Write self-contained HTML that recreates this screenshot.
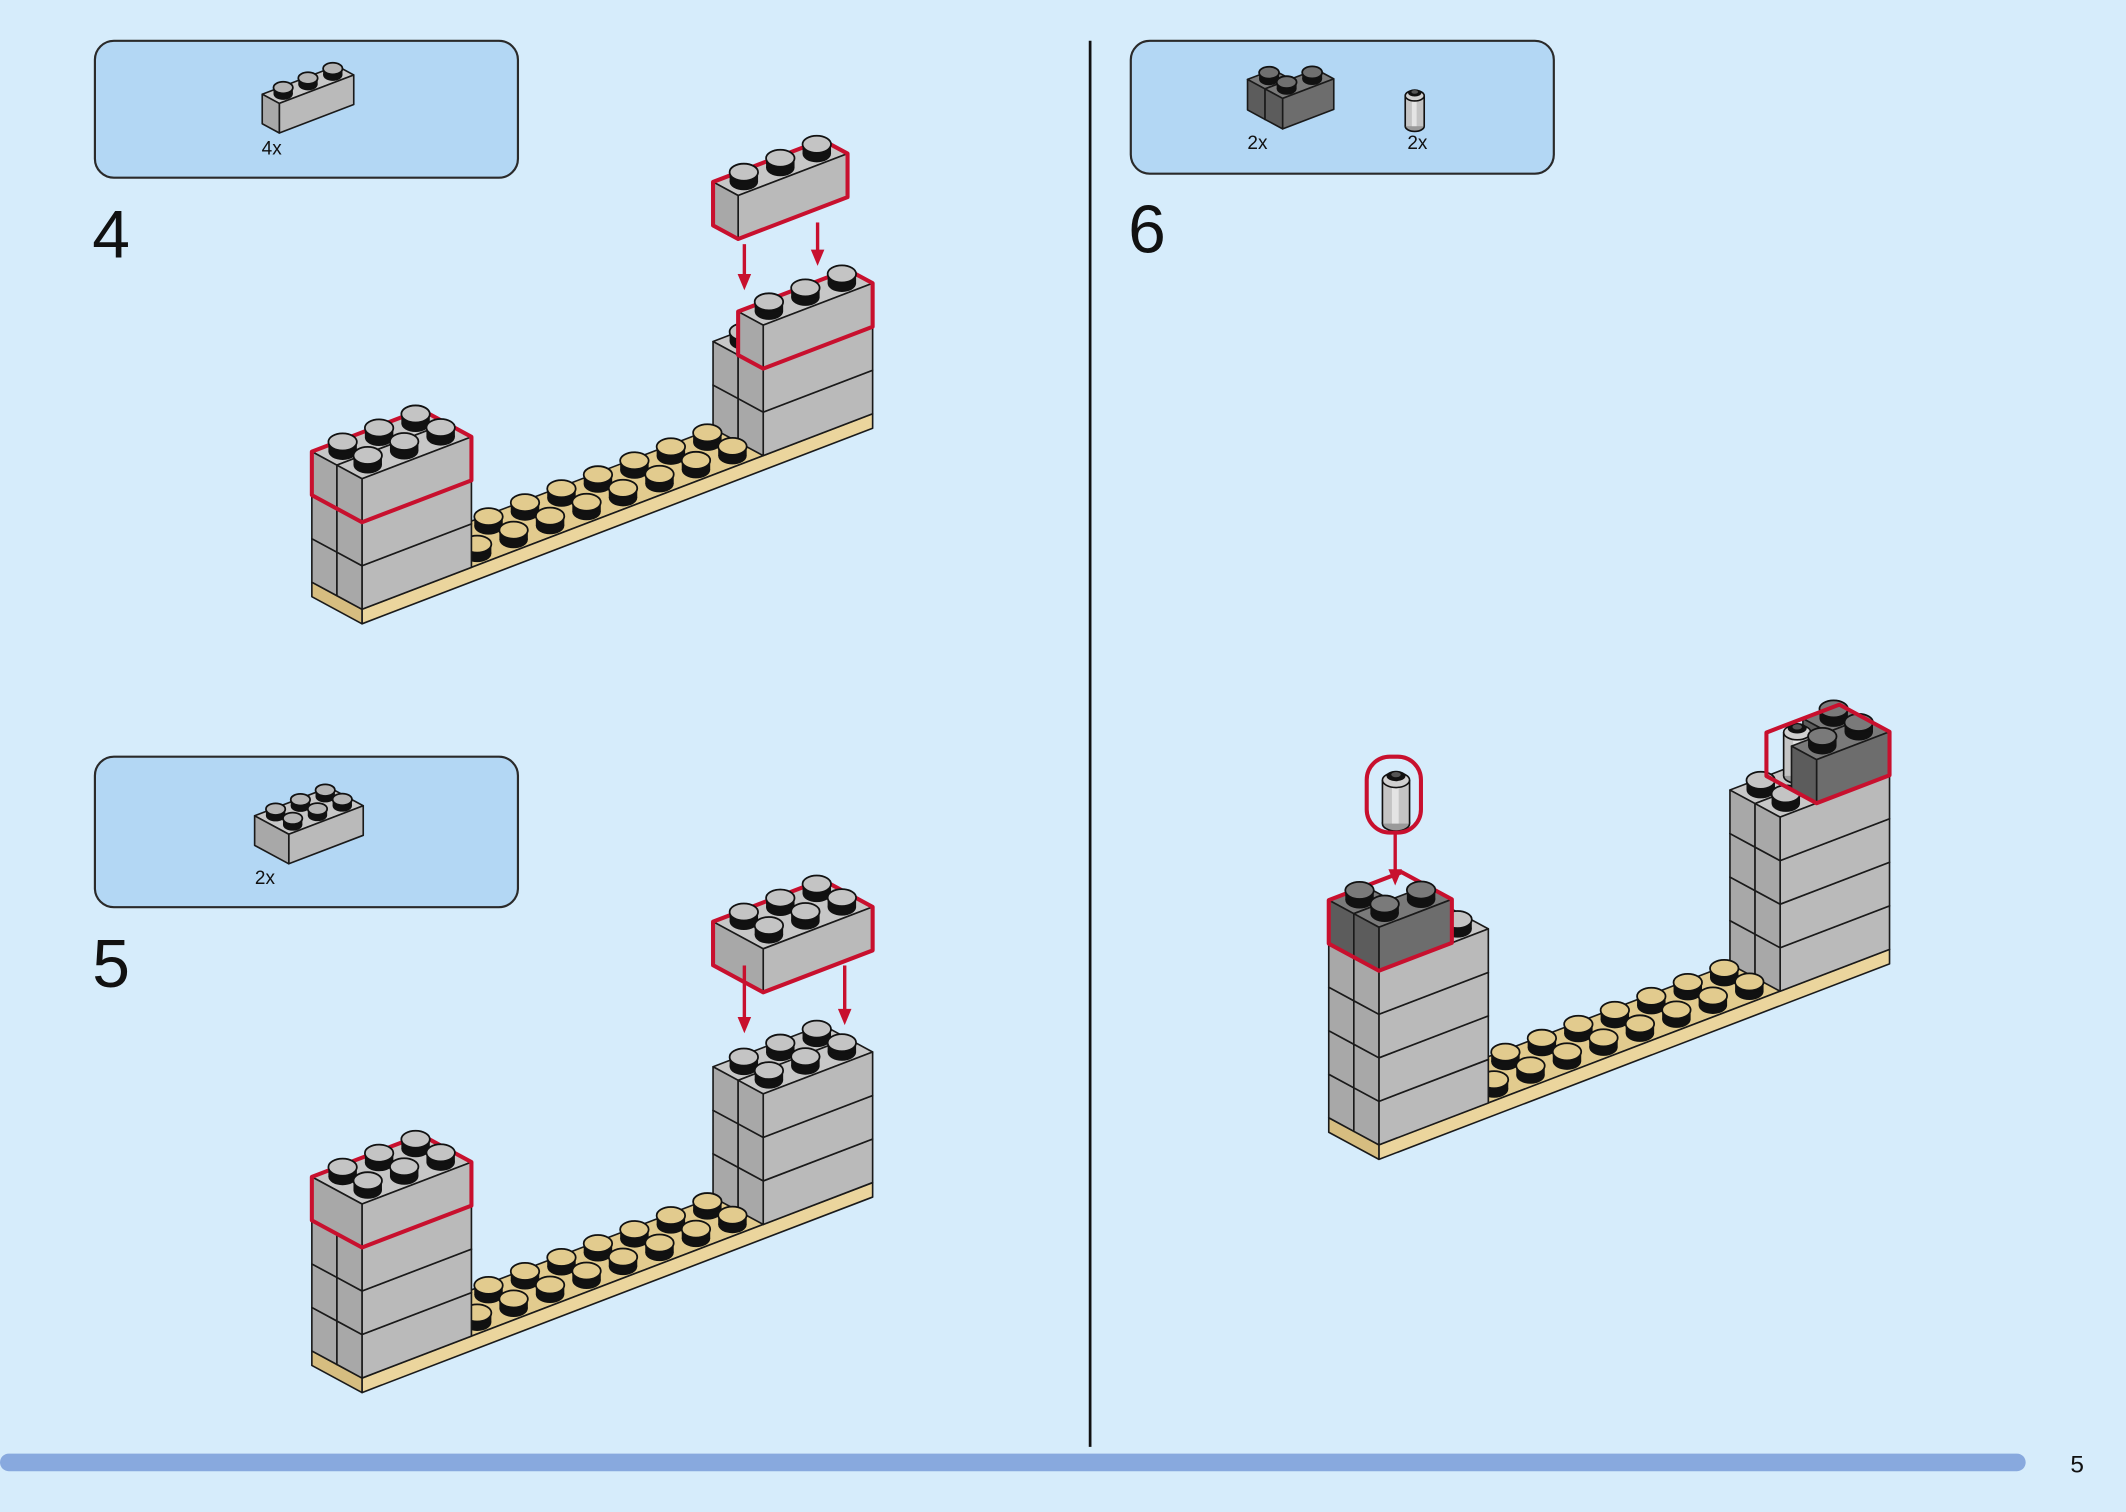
<!DOCTYPE html>
<html><head><meta charset="utf-8">
<style>
html,body{margin:0;padding:0;background:#d6ecfb;}
svg{display:block;}
</style></head>
<body>
<svg id="s" width="2126" height="1512" viewBox="0 0 1568 1115" xmlns="http://www.w3.org/2000/svg">
<rect x="0" y="0" width="1568" height="1115" fill="#d6ecfb"/>
<rect x="70" y="30" width="312" height="101" rx="14" fill="#b3d7f4" stroke="#2a2a2a" stroke-width="1.6"/>
<rect x="70" y="558" width="312" height="111" rx="14" fill="#b3d7f4" stroke="#2a2a2a" stroke-width="1.6"/>
<rect x="834" y="30" width="312" height="98" rx="14" fill="#b3d7f4" stroke="#2a2a2a" stroke-width="1.6"/>
<line x1="804" y1="30" x2="804" y2="1067" stroke="#111" stroke-width="2"/>
<rect x="0" y="1072" width="1494" height="13" rx="6.5" fill="#88a9de"/>
<text x="1527" y="1086" font-family="Liberation Sans, sans-serif" font-size="18" fill="#111">5</text>
<g font-family="Liberation Sans, sans-serif" fill="#111">
<text x="68" y="190" font-size="50">4</text>
<text x="68" y="728" font-size="50">5</text>
<text x="832" y="186" font-size="50">6</text>
<text x="193" y="114" font-size="14">4x</text>
<text x="188" y="652" font-size="14">2x</text>
<text x="920" y="110" font-size="14">2x</text>
<text x="1038" y="110" font-size="14">2x</text>
</g>
<g id="g"></g>
</svg>
<script>
var NS="http://www.w3.org/2000/svg",G=document.getElementById('g');
function el(t,a){var e=document.createElementNS(NS,t);for(var k in a)e.setAttribute(k,a[k]);G.appendChild(e);return e;}
function mk(ox,oy,s){var f=function(x,y,z){return [ox+s*(26.9*x-18.5*y),oy+s*(-10.3*x-10*y-10.7*z)];};f.s=s;return f;}
var GREY={t:'#c7c7c7',f:'#bababa',l:'#a8a8a8'},DARK={t:'#7a7a7a',f:'#6d6d6d',l:'#5c5c5c'},TAN={t:'#e2cb8e',f:'#ebd59d',l:'#d6bd80'};
function pts(a){return a.map(function(p){return p[0].toFixed(1)+','+p[1].toFixed(1)}).join(' ');}
function poly(a,fill,stroke,w){el('polygon',{points:pts(a),fill:fill,stroke:stroke||'#1a1a1a','stroke-width':w||1.2,'stroke-linejoin':'round'});}
function box(P,x0,y0,z0,x1,y1,z1,c){
 poly([P(x0,y0,z1),P(x1,y0,z1),P(x1,y1,z1),P(x0,y1,z1)],c.t);
 poly([P(x0,y0,z0),P(x1,y0,z0),P(x1,y0,z1),P(x0,y0,z1)],c.f);
 poly([P(x0,y0,z0),P(x0,y1,z0),P(x0,y1,z1),P(x0,y0,z1)],c.l);
}
function red(P,x0,y0,z0,x1,y1,z1){
 el('polygon',{points:pts([P(x0,y0,z0),P(x1,y0,z0),P(x1,y0,z1),P(x1,y1,z1),P(x0,y1,z1),P(x0,y1,z0)]),fill:'none',stroke:'#c8102e','stroke-width':3,'stroke-linejoin':'round'});
}
function stud(P,x,y,z,col){
 var c=P(x+.5,y+.5,z),s=P.s,rx=10.5*s,ry=6.3*s,h=7*s;
 el('ellipse',{cx:c[0],cy:c[1],rx:rx,ry:ry,fill:'#111'});
 el('rect',{x:c[0]-rx,y:c[1]-h,width:2*rx,height:h,fill:'#111'});
 el('ellipse',{cx:c[0],cy:c[1]-h,rx:rx,ry:ry,fill:col,stroke:'#111','stroke-width':1.3});
}
function studs(P,list,z,col){
 list.sort(function(a,b){return P(a[0],a[1],z)[1]-P(b[0],b[1],z)[1];});
 list.forEach(function(q){stud(P,q[0],q[1],z,col);});
}
function grid(x0,x1,y0,y1){var r=[];for(var x=x0;x<x1;x++)for(var y=y0;y<y1;y++)r.push([x,y]);return r;}
function tower(P,x0,x1,z0,z1){for(var z=z0;z<z1;z+=3){box(P,x0,1,z,x1,2,z+3,GREY);box(P,x0,0,z,x1,1,z+3,GREY);}}
function cyl(P,x,y,z0,z1){
 var a=P(x+.5,y+.5,z0),b=P(x+.5,y+.5,z1),s=P.s,rx=10*s,ry=5.5*s;
 el('ellipse',{cx:a[0],cy:a[1],rx:rx,ry:ry,fill:'#9a9a9a',stroke:'#111','stroke-width':1.2});
 el('rect',{x:a[0]-rx,y:b[1],width:2*rx,height:a[1]-b[1],fill:'#c4c4c4'});
 el('rect',{x:a[0]-rx*0.3,y:b[1],width:rx*0.5,height:a[1]-b[1],fill:'#e4e4e4'});
 el('line',{x1:a[0]-rx,y1:a[1],x2:a[0]-rx,y2:b[1],stroke:'#111','stroke-width':1.2});
 el('line',{x1:a[0]+rx,y1:a[1],x2:a[0]+rx,y2:b[1],stroke:'#111','stroke-width':1.2});
 el('ellipse',{cx:b[0],cy:b[1],rx:rx,ry:ry,fill:'#d0d0d0',stroke:'#111','stroke-width':1.2});
 el('ellipse',{cx:b[0],cy:b[1]-3*s,rx:rx*0.7,ry:ry*0.7,fill:'#111'});
 el('ellipse',{cx:b[0],cy:b[1]-4*s,rx:rx*0.35,ry:ry*0.35,fill:'#555'});
}
function arrow(x,y0,y1){
 el('line',{x1:x,y1:y0,x2:x,y2:y1-9,stroke:'#c8102e','stroke-width':2.5});
 el('polygon',{points:(x-5)+','+(y1-12)+' '+(x+5)+','+(y1-12)+' '+x+','+y1,fill:'#c8102e'});
}
var plateStuds=grid(3,11,0,2);
var P=mk(267,460,1);
box(P,0,0,0,14,2,1,TAN);
tower(P,11,14,1,7);
studs(P,grid(11,14,1,2),7,'#c4c4c4');
box(P,11,0,7,14,1,10,GREY);red(P,11,0,7,14,1,10);
studs(P,grid(11,14,0,1),10,'#c4c4c4');
studs(P,plateStuds.slice(),1,TAN.t);
tower(P,0,3,1,7);
box(P,0,1,7,3,2,10,GREY);box(P,0,0,7,3,1,10,GREY);red(P,0,0,7,3,2,10);
studs(P,grid(0,3,0,2),10,'#c4c4c4');
box(P,11,1,15,14,2,18,GREY);red(P,11,1,15,14,2,18);
studs(P,grid(11,14,1,2),18,'#c4c4c4');
arrow(549,180,214);arrow(603,164,196);
P=mk(267,1027,1);
box(P,0,0,0,14,2,1,TAN);
tower(P,11,14,1,10);
studs(P,grid(11,14,0,2),10,'#c4c4c4');
studs(P,plateStuds.slice(),1,TAN.t);
tower(P,0,3,1,10);
box(P,0,0,10,3,2,13,GREY);red(P,0,0,10,3,2,13);
studs(P,grid(0,3,0,2),13,'#c4c4c4');
box(P,11,0,17,14,2,20,GREY);red(P,11,0,17,14,2,20);
studs(P,grid(11,14,0,2),20,'#c4c4c4');
arrow(549,712,762);arrow(623,712,756);
P=mk(1017,855,1);
box(P,0,0,0,14,2,1,TAN);
tower(P,11,14,1,13);
studs(P,[[11,0],[11,1]],13,'#c4c4c4');
box(P,13,1,13,14,2,16,DARK);
cyl(P,12,1,13,16);
box(P,12,0,13,14,1,16,DARK);
studs(P,[[13,1],[12,0],[13,0]],16,'#7a7a7a');
red(P,12,0,13,14,2,16);
studs(P,plateStuds.slice(),1,TAN.t);
tower(P,0,3,1,13);
studs(P,[[2,0],[2,1],[1,1]],13,'#c4c4c4');
box(P,0,1,13,1,2,16,DARK);
box(P,0,0,13,2,1,16,DARK);
red(P,0,0,13,2,2,16);
studs(P,[[0,1],[0,0],[1,0]],16,'#7a7a7a');
cyl(P,1,1,20.3,23.3);
el('rect',{x:1008,y:558,width:40,height:56,rx:17,fill:'none',stroke:'#c8102e','stroke-width':3});
arrow(1029,615,653);
P=mk(206,98,0.68);box(P,0,0,0,3,1,3,GREY);studs(P,grid(0,3,0,1),3,'#b5b5b5');
P=mk(213,637,0.68);box(P,0,0,0,3,2,3,GREY);studs(P,grid(0,3,0,2),3,'#b5b5b5');
P=mk(946,95,0.7);box(P,0,1,0,1,2,3,DARK);box(P,0,0,0,2,1,3,DARK);studs(P,[[0,1],[0,0],[1,0]],3,'#707070');
P=mk(1060,95,0.7);cyl(P,-0.9,0.2,0,3);
</script>
</body></html>
